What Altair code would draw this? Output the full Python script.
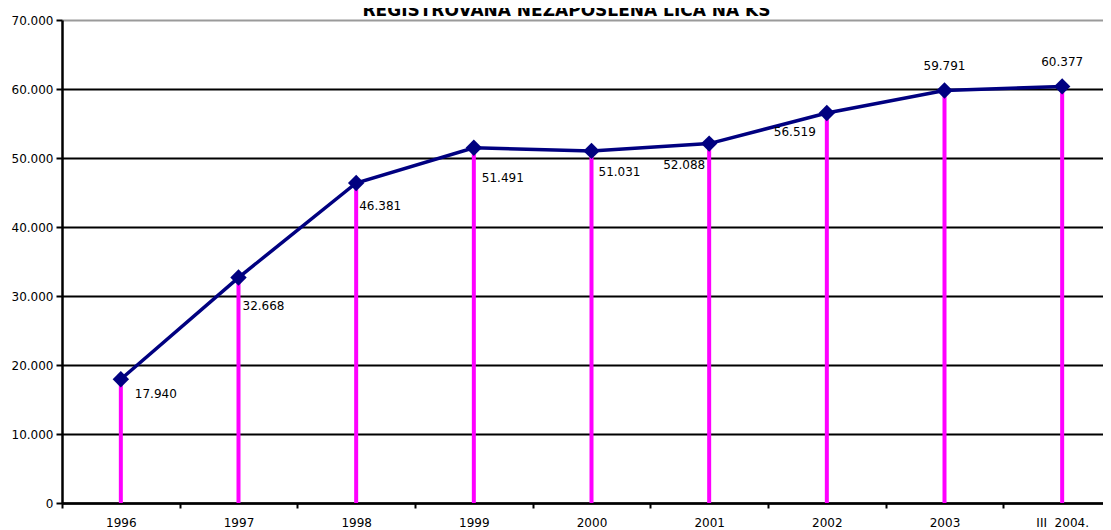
import altair as alt
import pandas as pd

categories = ["1996", "1997", "1998", "1999", "2000", "2001", "2002", "2003", "III\u00a0\u00a02004."]
values = [17940, 32668, 46381, 51491, 51031, 52088, 56519, 59791, 60377]
labels = ["17.940", "32.668", "46.381", "51.491", "51.031", "52.088", "56.519", "59.791", "60.377"]
title_text = "REGISTROVANA NEZAPOSLENA LICA NA KS"
y_ticks = [0, 10000, 20000, 30000, 40000, 50000, 60000, 70000]

# label placement relative to its point: (align, dx, dy)
label_layout = [
    ("left", 14, 15), ("left", 4, 28), ("left", 3, 23), ("left", 8, 30),
    ("left", 7, 21), ("right", -4, 21), ("right", -11, 19),
    ("center", 0, -24), ("center", 0, -24),
]

FONT = "DejaVu Sans"
df = pd.DataFrame({"cat": categories, "val": values, "lab": labels})

x_enc = alt.X(
    "cat:N", sort=categories, title=None,
    scale=alt.Scale(type="band", domain=categories, range=[0, 1059], paddingInner=0, paddingOuter=0),
    axis=alt.Axis(
        tickBand="extent", tickSize=5, tickWidth=2, tickColor="black",
        domainColor="black", domainWidth=2.5, labelAngle=0, labelPadding=9,
        labelFont=FONT, labelFontSize=12, labelColor="black", grid=False,
    ),
)
y_enc = alt.Y(
    "val:Q", title=None,
    scale=alt.Scale(domain=[0, 70000], nice=False, zero=True),
    axis=alt.Axis(
        values=y_ticks, labelExpr="replace(format(datum.value, ','), ',', '.')",
        tickSize=6, tickWidth=2, tickColor="black", domainColor="black", domainWidth=2.5,
        labelPadding=3, labelFont=FONT, labelFontSize=12, labelColor="black",
        grid=True, gridWidth=2,
        gridColor={"condition": {"test": "datum.value == 70000", "value": "#9a9a9a"}, "value": "black"},
    ),
)

base = alt.Chart(df)
rules = base.mark_rule(color="#FF00FF", strokeWidth=4).encode(x=x_enc, y=y_enc, y2=alt.datum(0))
line = base.mark_line(color="#000080", strokeWidth=3.5).encode(x=x_enc, y=y_enc)
points = base.mark_point(shape="diamond", filled=True, size=270, color="#000080", opacity=1).encode(x=x_enc, y=y_enc)

text_layers = []
for cat, (align, dx, dy) in zip(categories, label_layout):
    text_layers.append(
        base.transform_filter(alt.datum.cat == cat)
        .mark_text(align=align, baseline="middle", dx=dx, dy=dy, font=FONT, fontSize=12, color="black")
        .encode(x=x_enc, y=y_enc, text="lab:N")
    )

chart = alt.layer(rules, line, points, *text_layers).properties(
    width=1041, height=483,
    autosize=alt.AutoSizeParams(type="none"),
    padding={"left": 54, "top": 12, "right": 0, "bottom": 26},
    title=alt.TitleParams(
        text=title_text, font=FONT, fontSize=17, fontWeight="bold", color="black",
        anchor="middle", baseline="alphabetic", offset=-19, dx=-16,
    ),
).configure_view(stroke=None).configure(background="white")

chart.save("out.html", embed_options={"renderer": "svg", "actions": False})
